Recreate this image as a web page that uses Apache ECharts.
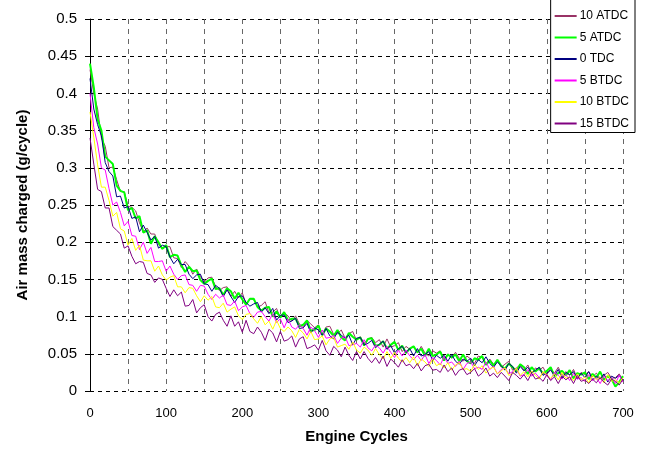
<!DOCTYPE html>
<html>
<head>
<meta charset="utf-8">
<script src="https://cdn.jsdelivr.net/npm/echarts@6/dist/echarts.min.js"></script>
<style>
    html, body { margin: 0; padding: 0; background: #fff; }
    #myChart { width: 649px; height: 452px; }
</style>
</head>
<body>
<div id="myChart"></div>
<script>
// engine cycle of each reading (every 5th cycle)
var cycles = [0, 5, 10, 15, 20, 25, 30, 35, 40, 45, 50, 55, 60, 65, 70, 75, 80, 85, 90, 95,
    100, 105, 110, 115, 120, 125, 130, 135, 140, 145, 150, 155, 160, 165, 170, 175, 180, 185, 190, 195,
    200, 205, 210, 215, 220, 225, 230, 235, 240, 245, 250, 255, 260, 265, 270, 275, 280, 285, 290, 295,
    300, 305, 310, 315, 320, 325, 330, 335, 340, 345, 350, 355, 360, 365, 370, 375, 380, 385, 390, 395,
    400, 405, 410, 415, 420, 425, 430, 435, 440, 445, 450, 455, 460, 465, 470, 475, 480, 485, 490, 495,
    500, 505, 510, 515, 520, 525, 530, 535, 540, 545, 550, 555, 560, 565, 570, 575, 580, 585, 590, 595,
    600, 605, 610, 615, 620, 625, 630, 635, 640, 645, 650, 655, 660, 665, 670, 675, 680, 685, 690, 695, 700]

// air mass charged, g/cycle
var atdc10 = [0.432, 0.400, 0.379, 0.340, 0.329, 0.300, 0.301, 0.284, 0.268, 0.268,
    0.248, 0.247, 0.242, 0.226, 0.214, 0.219, 0.211, 0.211, 0.197, 0.191, 0.194,
    0.194, 0.179, 0.178, 0.166, 0.174, 0.168, 0.157, 0.164, 0.154, 0.146,
    0.152, 0.153, 0.140, 0.135, 0.139, 0.140, 0.127, 0.134, 0.125, 0.132,
    0.117, 0.124, 0.123, 0.113, 0.115, 0.120, 0.105, 0.106, 0.111, 0.098,
    0.105, 0.101, 0.094, 0.101, 0.090, 0.085, 0.095, 0.090, 0.085, 0.089,
    0.076, 0.086, 0.087, 0.076, 0.077, 0.082, 0.071, 0.077, 0.080,
    0.068, 0.073, 0.064, 0.070, 0.072, 0.065, 0.069, 0.059, 0.070, 0.059, 0.061,
    0.065, 0.053, 0.060, 0.056, 0.060, 0.051, 0.060, 0.051, 0.047, 0.054,
    0.051, 0.054, 0.042, 0.050, 0.044, 0.052, 0.044, 0.040, 0.047, 0.043,
    0.037, 0.047, 0.045, 0.036, 0.043, 0.036, 0.041, 0.032, 0.036, 0.040,
    0.028, 0.031, 0.035, 0.028, 0.035, 0.024, 0.031, 0.028, 0.032, 0.022,
    0.030, 0.024, 0.032, 0.021, 0.026, 0.021, 0.029, 0.017, 0.025,
    0.022, 0.026, 0.019, 0.024, 0.017, 0.021, 0.025, 0.017, 0.018, 0.023, 0.015]
var atdc5 = [0.440, 0.408, 0.365, 0.350, 0.315, 0.310, 0.305, 0.276, 0.269, 0.267,
    0.243, 0.246, 0.232, 0.235, 0.213, 0.216, 0.198, 0.208, 0.200, 0.191, 0.196,
    0.180, 0.183, 0.182, 0.169, 0.160, 0.167, 0.161, 0.162, 0.149, 0.144,
    0.148, 0.151, 0.137, 0.138, 0.129, 0.138, 0.134, 0.124, 0.132, 0.123,
    0.116, 0.124, 0.124, 0.113, 0.108, 0.112, 0.113, 0.100, 0.107, 0.099,
    0.106, 0.095, 0.097, 0.097, 0.087, 0.089, 0.095, 0.081, 0.082, 0.088,
    0.075, 0.084, 0.080, 0.074, 0.082, 0.072, 0.068, 0.078, 0.073, 0.069,
    0.072, 0.061, 0.070, 0.071, 0.061, 0.062, 0.067, 0.057, 0.062, 0.066,
    0.055, 0.061, 0.051, 0.057, 0.060, 0.052, 0.057, 0.047, 0.057, 0.047,
    0.049, 0.053, 0.041, 0.049, 0.045, 0.049, 0.040, 0.049, 0.040, 0.037,
    0.044, 0.042, 0.047, 0.035, 0.041, 0.034, 0.042, 0.034, 0.030, 0.037,
    0.032, 0.026, 0.036, 0.032, 0.023, 0.032, 0.026, 0.031, 0.023, 0.027,
    0.032, 0.020, 0.024, 0.027, 0.021, 0.028, 0.017, 0.024, 0.022, 0.025,
    0.016, 0.023, 0.018, 0.026, 0.015, 0.020, 0.016, 0.006, 0.012, 0.020]
var tdc0 = [0.420, 0.379, 0.358, 0.343, 0.307, 0.295, 0.289, 0.261, 0.262, 0.246,
    0.248, 0.232, 0.234, 0.214, 0.223, 0.213, 0.203, 0.208, 0.192, 0.196, 0.194,
    0.180, 0.171, 0.177, 0.170, 0.170, 0.157, 0.151, 0.156, 0.157, 0.144,
    0.143, 0.134, 0.142, 0.138, 0.127, 0.136, 0.127, 0.119, 0.127, 0.128,
    0.119, 0.114, 0.117, 0.119, 0.106, 0.112, 0.104, 0.111, 0.095, 0.102,
    0.102, 0.092, 0.094, 0.098, 0.084, 0.085, 0.091, 0.078, 0.085, 0.082,
    0.075, 0.084, 0.074, 0.070, 0.079, 0.075, 0.071, 0.075, 0.062, 0.071,
    0.072, 0.062, 0.064, 0.068, 0.058, 0.063, 0.067, 0.056, 0.061, 0.051,
    0.057, 0.060, 0.052, 0.057, 0.047, 0.057, 0.047, 0.049, 0.053, 0.041,
    0.048, 0.044, 0.048, 0.040, 0.049, 0.040, 0.036, 0.043, 0.040, 0.044,
    0.034, 0.042, 0.038, 0.046, 0.037, 0.032, 0.039, 0.034, 0.028, 0.037,
    0.033, 0.024, 0.033, 0.027, 0.032, 0.024, 0.028, 0.032, 0.021, 0.024,
    0.028, 0.021, 0.029, 0.017, 0.025, 0.022, 0.026, 0.016, 0.024, 0.018,
    0.026, 0.015, 0.020, 0.016, 0.023, 0.012, 0.020, 0.017, 0.021, 0.014]
var btdc5 = [0.400, 0.354, 0.332, 0.300, 0.297, 0.272, 0.250, 0.254, 0.240, 0.222,
    0.228, 0.209, 0.208, 0.190, 0.200, 0.185, 0.193, 0.174, 0.174, 0.175, 0.161,
    0.168, 0.157, 0.150, 0.155, 0.156, 0.143, 0.142, 0.134, 0.142, 0.141,
    0.130, 0.123, 0.130, 0.125, 0.129, 0.116, 0.115, 0.121, 0.108, 0.113,
    0.115, 0.104, 0.099, 0.106, 0.107, 0.100, 0.094, 0.104, 0.092, 0.097,
    0.085, 0.097, 0.086, 0.083, 0.089, 0.084, 0.075, 0.086, 0.081, 0.072,
    0.082, 0.071, 0.072, 0.075, 0.064, 0.071, 0.073, 0.061, 0.062, 0.064,
    0.059, 0.069, 0.058, 0.054, 0.062, 0.058, 0.051, 0.060, 0.052, 0.045,
    0.055, 0.047, 0.055, 0.047, 0.042, 0.048, 0.041, 0.049, 0.037, 0.045,
    0.041, 0.035, 0.046, 0.037, 0.039, 0.033, 0.040, 0.029, 0.037, 0.039,
    0.030, 0.032, 0.029, 0.039, 0.029, 0.033, 0.023, 0.029, 0.031, 0.023,
    0.026, 0.030, 0.020, 0.022, 0.029, 0.020, 0.024, 0.018, 0.025, 0.020,
    0.015, 0.025, 0.021, 0.016, 0.022, 0.014, 0.024, 0.016, 0.018, 0.013,
    0.022, 0.014, 0.018, 0.010, 0.020, 0.014, 0.018, 0.010, 0.021, 0.012]
var btdc10 = [0.375, 0.341, 0.304, 0.274, 0.274, 0.256, 0.235, 0.240, 0.218, 0.215,
    0.196, 0.205, 0.189, 0.196, 0.176, 0.175, 0.175, 0.161, 0.168, 0.156, 0.149,
    0.153, 0.155, 0.140, 0.140, 0.132, 0.139, 0.138, 0.128, 0.120, 0.128,
    0.122, 0.127, 0.113, 0.112, 0.118, 0.106, 0.110, 0.113, 0.101, 0.096,
    0.103, 0.104, 0.097, 0.091, 0.100, 0.089, 0.094, 0.083, 0.095, 0.084,
    0.080, 0.086, 0.081, 0.072, 0.083, 0.078, 0.070, 0.080, 0.069, 0.070,
    0.074, 0.062, 0.070, 0.072, 0.059, 0.061, 0.063, 0.056, 0.066, 0.055,
    0.051, 0.059, 0.055, 0.048, 0.057, 0.049, 0.043, 0.053, 0.044, 0.052,
    0.044, 0.039, 0.045, 0.038, 0.046, 0.034, 0.043, 0.039, 0.033, 0.043,
    0.034, 0.037, 0.031, 0.038, 0.028, 0.035, 0.038, 0.029, 0.030, 0.026,
    0.036, 0.029, 0.034, 0.024, 0.030, 0.032, 0.023, 0.027, 0.031, 0.021,
    0.023, 0.031, 0.021, 0.026, 0.019, 0.027, 0.021, 0.016, 0.026, 0.022,
    0.017, 0.023, 0.015, 0.025, 0.017, 0.019, 0.014, 0.023, 0.015, 0.019,
    0.011, 0.021, 0.015, 0.019, 0.011, 0.022, 0.013, 0.015, 0.011, 0.018]
var btdc15 = [0.340, 0.305, 0.271, 0.268, 0.246, 0.246, 0.221, 0.216, 0.211, 0.192,
    0.195, 0.181, 0.171, 0.174, 0.173, 0.158, 0.156, 0.146, 0.152, 0.150, 0.138,
    0.127, 0.136, 0.128, 0.133, 0.114, 0.115, 0.123, 0.105, 0.112, 0.116,
    0.100, 0.094, 0.103, 0.106, 0.095, 0.087, 0.101, 0.087, 0.093, 0.079,
    0.095, 0.080, 0.077, 0.086, 0.079, 0.068, 0.083, 0.078, 0.066, 0.080,
    0.067, 0.069, 0.074, 0.059, 0.070, 0.073, 0.057, 0.059, 0.062, 0.055,
    0.068, 0.054, 0.048, 0.060, 0.055, 0.046, 0.059, 0.048, 0.041,
    0.053, 0.043, 0.053, 0.044, 0.038, 0.045, 0.037, 0.047, 0.033, 0.043, 0.038,
    0.032, 0.042, 0.034, 0.036, 0.030, 0.037, 0.027, 0.034, 0.036, 0.028,
    0.029, 0.025, 0.035, 0.026, 0.031, 0.021, 0.028, 0.030, 0.022, 0.025,
    0.030, 0.020, 0.024, 0.031, 0.020, 0.024, 0.018, 0.025, 0.020, 0.014,
    0.025, 0.021, 0.016, 0.022, 0.014, 0.024, 0.016, 0.018, 0.013, 0.022,
    0.014, 0.019, 0.010, 0.020, 0.015, 0.019, 0.010, 0.021, 0.013,
    0.015, 0.010, 0.016, 0.011, 0.018, 0.012, 0.008, 0.016, 0.013, 0.008, 0.016]

var seriesNames = ['10 ATDC', '5 ATDC', '0 TDC', '5 BTDC', '10 BTDC', '15 BTDC']
var seriesValues = [atdc10, atdc5, tdc0, btdc5, btdc10, btdc15]
var seriesColors = ['#993366', '#00ff00', '#000080', '#ff00ff', '#ffff00', '#800080']
var seriesWidths = [1, 2, 1, 1, 1, 1]

var font = 'Liberation Sans, Arial, sans-serif'

function drawLine () {
    var myChart = echarts.init(document.getElementById('myChart'), null, {renderer: 'canvas'})
    var series = []
    for (var i = 0; i < seriesNames.length; i++) {
        var pts = []
        for (var j = 0; j < cycles.length; j++) {
            pts.push([cycles[j], seriesValues[i][j]])
        }
        series.push({
            name: seriesNames[i],
            type: 'line',
            data: pts,
            symbol: 'none',
            showSymbol: false,
            smooth: false,
            lineStyle: {color: seriesColors[i], width: seriesWidths[i]},
            itemStyle: {color: seriesColors[i]}
        })
    }
    myChart.setOption({
        animation: false,
        textStyle: {fontFamily: font},
        grid: {left: 90, top: 19, right: 26, bottom: 61, containLabel: false},
        legend: {
            orient: 'vertical',
            right: 14,
            top: -1,
            data: seriesNames,
            itemWidth: 22,
            itemHeight: 14,
            itemGap: 9.5,
            padding: [11, 6, 3, 3],
            backgroundColor: '#fff',
            borderColor: '#000',
            borderWidth: 1,
            borderRadius: 0,
            itemStyle: {opacity: 0},
            textStyle: {fontSize: 12, color: '#000', fontFamily: font, padding: [0, 0, 0, -2]}
        },
        tooltip: {show: false},
        xAxis: {
            type: 'value',
            min: 0,
            max: 700,
            interval: 50,
            name: 'Engine Cycles',
            nameLocation: 'middle',
            nameGap: 38,
            nameTextStyle: {fontSize: 15, fontWeight: 'bold', color: '#000', fontFamily: font},
            axisLine: {show: false},
            axisTick: {show: false},
            axisLabel: {
                fontSize: 13,
                color: '#000',
                margin: 16,
                formatter: function (v) { return v % 100 === 0 ? String(v) : '' }
            },
            splitLine: {show: true, lineStyle: {color: '#666', type: [5, 5], width: 1}}
        },
        yAxis: {
            type: 'value',
            min: 0,
            max: 0.5,
            interval: 0.05,
            name: 'Air mass charged (g/cycle)',
            nameLocation: 'middle',
            nameGap: 60,
            nameTextStyle: {fontSize: 15, fontWeight: 'bold', color: '#000', fontFamily: font},
            axisLine: {show: true, onZero: false, lineStyle: {color: '#000', width: 1}},
            axisTick: {show: true, length: 5, lineStyle: {color: '#000'}},
            axisLabel: {
                fontSize: 15,
                color: '#000',
                margin: 13,
                formatter: function (v) { return String(parseFloat(v.toFixed(2))) }
            },
            splitLine: {show: true, lineStyle: {color: '#000', type: [4, 4], width: 1}}
        },
        series: series
    })
}
drawLine()
</script>
</body>
</html>
